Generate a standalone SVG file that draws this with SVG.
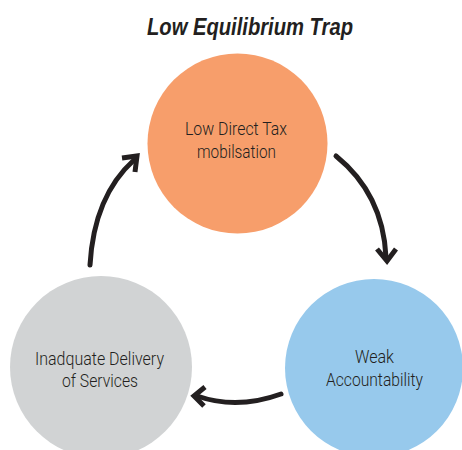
<svg xmlns="http://www.w3.org/2000/svg" width="462" height="450" viewBox="0 0 462 450">
  <style>
    .label { font-family: Roboto, "Liberation Sans", Arial, sans-serif; font-weight: 300; font-size: 18px; fill: #231F20; text-anchor: middle; }
    .title { font-family: "Liberation Sans", Arial, sans-serif; font-size: 24px; font-weight: bold; font-style: italic; fill: #231F20; text-anchor: middle; }
    .arc { fill: none; stroke: #231F20; stroke-width: 5; stroke-linecap: round; }
    .head { fill: none; stroke: #231F20; stroke-width: 5; stroke-linejoin: miter; stroke-linecap: butt; }
  </style>
  <rect width="462" height="450" fill="#FFFFFF"/>

  <text class="title" x="250" y="35" textLength="206" lengthAdjust="spacingAndGlyphs">Low Equilibrium Trap</text>

  <g id="node-tax">
    <circle cx="237.5" cy="143.5" r="90" fill="#F79E6B"/>
    <text class="label" x="236" y="135" textLength="102" lengthAdjust="spacingAndGlyphs">Low Direct Tax</text>
    <text class="label" x="236.5" y="158" textLength="79" lengthAdjust="spacingAndGlyphs">mobilsation</text>
  </g>

  <g id="node-accountability">
    <circle cx="374" cy="368" r="89" fill="#97C9EC"/>
    <text class="label" x="374.5" y="363" textLength="39" lengthAdjust="spacingAndGlyphs">Weak</text>
    <text class="label" x="374.5" y="386" textLength="97" lengthAdjust="spacingAndGlyphs">Accountability</text>
  </g>

  <g id="node-services">
    <circle cx="101" cy="367" r="91" fill="#D1D3D4"/>
    <text class="label" x="99.5" y="365" textLength="129" lengthAdjust="spacingAndGlyphs">Inadquate Delivery</text>
    <text class="label" x="100" y="387" textLength="76" lengthAdjust="spacingAndGlyphs">of Services</text>
  </g>

  <g id="connectors">
    <!-- tax -> accountability -->
    <path class="arc" d="M336,156 Q383,194 386,257"/>
    <path class="head" d="M377,249 L387,261 L396,249"/>
    <!-- accountability -> services -->
    <path class="arc" d="M281,394 Q237,410 197,396"/>
    <path class="head" d="M205,387 L194,396 L204,406"/>
    <!-- services -> tax -->
    <path class="arc" d="M90,265 Q94,196 134,160"/>
    <path class="head" d="M122,158 L137,156 L135,172"/>
  </g>
</svg>
